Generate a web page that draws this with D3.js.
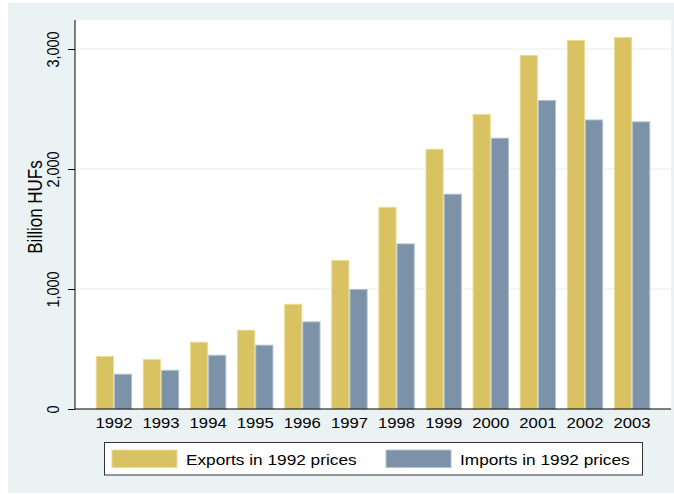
<!DOCTYPE html>
<html>
<head>
<meta charset="utf-8">
<script src="https://cdn.jsdelivr.net/npm/d3@7"></script>
<style>
  body { margin: 0; background: #fff; }
  svg { display: block; }
  text { font-family: Arial, "Liberation Sans", Helvetica, sans-serif; fill: #000; }
</style>
</head>
<body>
<svg width="674" height="494"></svg>
<script>
var years = ["1992", "1993", "1994", "1995", "1996", "1997", "1998", "1999", "2000", "2001", "2002", "2003"];
var exportsVals = [442, 417, 561, 661, 877, 1242, 1685, 2169, 2458, 2950, 3075, 3100];
var importsVals = [294, 327, 452, 536, 730, 1000, 1380, 1794, 2261, 2575, 2413, 2397];
var yTicks = [0, 1000, 2000, 3000];
var seriesNames = ["Exports in 1992 prices", "Imports in 1992 prices"];
var seriesColors = ["#d8c262", "#7c92a8"];
var seriesEdges = ["#ebdc95", "#b3c1cf"];

var svg = d3.select("svg"),
  width = +svg.attr("width"),
  height = +svg.attr("height");

// the picture is a bit wider than tall, so text gets stretched sideways
var sx = 1.15;

var plotLeft = 75, plotRight = 671, plotTop = 20, plotBottom = 409;

svg.append("rect")
  .attr("x", 8).attr("y", 3)
  .attr("width", width - 8).attr("height", 490)
  .attr("fill", "#eaf2f3");

svg.append("rect")
  .attr("x", plotLeft).attr("y", plotTop)
  .attr("width", plotRight - plotLeft).attr("height", plotBottom - plotTop)
  .attr("fill", "#fff");

var x0 = d3.scaleBand()
  .domain(years)
  .range([plotLeft, plotRight])
  .paddingInner(0.228)
  .paddingOuter(0.44);

var x1 = d3.scaleBand()
  .domain([0, 1])
  .range([0, x0.bandwidth()]);

var y = d3.scaleLinear()
  .domain([0, 3000])
  .range([plotBottom, 49]);

// gridlines
svg.append("g")
  .selectAll("line")
  .data(yTicks.filter(function (d) { return d > 0; }))
  .enter()
  .append("line")
  .attr("x1", plotLeft).attr("x2", plotRight)
  .attr("y1", function (d) { return y(d); })
  .attr("y2", function (d) { return y(d); })
  .attr("stroke", "#e6eef0")
  .attr("stroke-width", 1.2);

// bars
var groups = svg.append("g")
  .selectAll("g")
  .data(years)
  .enter()
  .append("g")
  .attr("transform", function (d) { return "translate(" + x0(d) + ",0)"; });

groups.selectAll("rect")
  .data(function (d, i) { return [exportsVals[i], importsVals[i]]; })
  .enter()
  .append("rect")
  .attr("x", function (d, j) { return x1(j) + 0.5; })
  .attr("y", function (d) { return y(d) + 0.5; })
  .attr("width", x1.bandwidth() - 1)
  .attr("height", function (d) { return y(0) - y(d) - 0.5; })
  .attr("fill", function (d, j) { return seriesColors[j]; })
  .attr("stroke", function (d, j) { return seriesEdges[j]; })
  .attr("stroke-width", 1);

// y axis
var yAxis = d3.axisLeft(y).tickValues(yTicks).tickSize(7).tickFormat(d3.format(","));
var gy = svg.append("g")
  .attr("transform", "translate(" + plotLeft + ",0)")
  .call(yAxis);
gy.select(".domain").remove();
gy.selectAll(".tick line").attr("stroke", "#000");
gy.selectAll(".tick text")
  .attr("x", null).attr("dy", null)
  .attr("font-size", 14.5)
  .attr("text-anchor", "middle")
  .attr("transform", "translate(-16,0) scale(" + sx + ",1) rotate(-90)");
svg.append("line")
  .attr("x1", plotLeft).attr("x2", plotLeft)
  .attr("y1", plotTop).attr("y2", plotBottom)
  .attr("stroke", "#000");

svg.append("text")
  .attr("font-size", 17)
  .attr("text-anchor", "middle")
  .attr("transform", "translate(41.5,207) scale(" + sx + ",1) rotate(-90)")
  .text("Billion HUFs");

// x axis
var xAxis = d3.axisBottom(x0).tickSize(0);
var gx = svg.append("g")
  .attr("transform", "translate(0," + plotBottom + ")")
  .call(xAxis);
gx.select(".domain").remove();
gx.selectAll(".tick text")
  .attr("y", null).attr("dy", null)
  .attr("font-size", 14.5)
  .attr("transform", "translate(0,18.5) scale(" + sx + ",1)");
svg.append("line")
  .attr("x1", plotLeft).attr("x2", plotRight)
  .attr("y1", plotBottom).attr("y2", plotBottom)
  .attr("stroke", "#000");

// legend
var legend = svg.append("g");
legend.append("rect")
  .attr("x", 104.5).attr("y", 442.5)
  .attr("width", 538).attr("height", 32.5)
  .attr("fill", "#fff")
  .attr("stroke", "#333")
  .attr("stroke-width", 1);

var legendX = [112, 386];
var items = legend.selectAll("g.item")
  .data(seriesNames)
  .enter()
  .append("g")
  .attr("class", "item");
items.append("rect")
  .attr("x", function (d, i) { return legendX[i]; })
  .attr("y", 450)
  .attr("width", 65).attr("height", 17.5)
  .attr("fill", function (d, i) { return seriesColors[i]; })
  .attr("stroke", function (d, i) { return seriesEdges[i]; });
items.append("text")
  .attr("font-size", 15)
  .attr("transform", function (d, i) {
    return "translate(" + (legendX[i] + 74) + ",464.5) scale(" + sx + ",1)";
  })
  .text(function (d) { return d; });
</script>
</body>
</html>
